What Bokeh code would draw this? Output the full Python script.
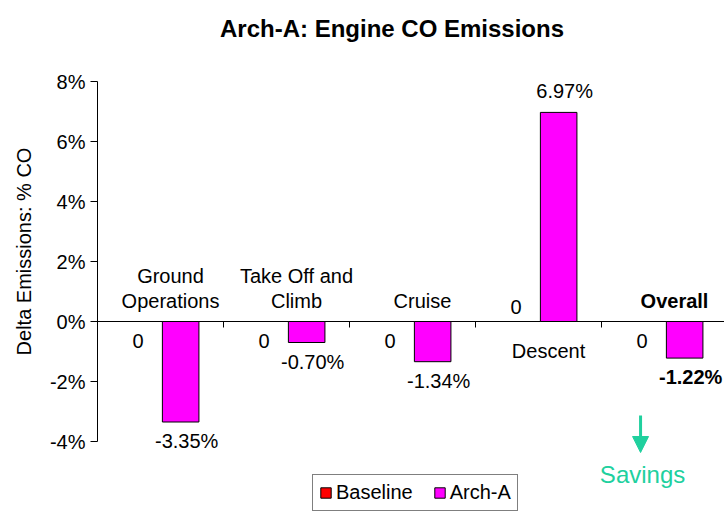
import numpy as np
from bokeh.plotting import figure
from bokeh.models import (ColumnDataSource, Range1d, LabelSet, Label, Arrow, NormalHead,
                          Legend, LegendItem)
from bokeh.core.properties import field, value
from bokeh.embed import file_html
from bokeh.resources import INLINE

# ---------------- data ----------------
chart_title = "Arch-A: Engine CO Emissions"
categories = ["Ground\nOperations", "Take Off and\nClimb", "Cruise", "Descent", "Overall"]
series_names = ["Baseline", "Arch-A"]
baseline = [0, 0, 0, 0, 0]
arch_a = [-3.35, -0.70, -1.34, 6.97, -1.22]
baseline_labels = ["0", "0", "0", "0", "0"]
arch_a_labels = ["-3.35%", "-0.70%", "-1.34%", "6.97%", "-1.22%"]
y_ticks = [-4, -2, 0, 2, 4, 6, 8]
y_tick_labels = ["-4%", "-2%", "0%", "2%", "4%", "6%", "8%"]
y_axis_title = "Delta Emissions: % CO"
savings_text = "Savings"

# ---------------- layout / style ----------------
FONT_NAME = "Liberation Sans"
FONT = value(FONT_NAME)
W, H = 724, 512
AX_LEFT_PX = 97      # pixel position of the value axis
TOP_PX = 81          # pixel position of the top of the value axis
GROUP_PX = 126       # pixels per category
UNIT_PX = 30         # pixels per 1 %
FS = "20px"
MAGENTA = "#FF00FF"
RED = "#FF0000"
GREEN = "#20D09E"
BAR_W = 0.29

y_top, y_bot = y_ticks[-1], y_ticks[0]


def x_of(px):
    return (px - AX_LEFT_PX) / GROUP_PX


def y_of(py):
    return y_top - (py - TOP_PX) / UNIT_PX


n = len(categories)
xc = np.arange(n) + 0.5
base_x = xc - 0.155
arch_x = xc + 0.16
styles = ["bold" if c == "Overall" else "normal" for c in categories]
neg = [v < 0 for v in arch_a]

p = figure(width=W, height=H, x_range=Range1d(x_of(0), x_of(W)), y_range=Range1d(y_of(H), y_of(0)),
           output_backend="svg", toolbar_location=None, x_axis_location=None, y_axis_location=None,
           min_border=0)
p.outline_line_color = None
p.grid.visible = False
p.background_fill_color = "white"
p.border_fill_color = "white"

# title
p.add_layout(Label(x=x_of(391.5), y=y_of(28), text=chart_title, text_align="center",
                   text_baseline="alphabetic", text_font=FONT_NAME, text_font_size="24px",
                   text_font_style="bold", text_color="black"))

# value axis (drawn by hand so it is bounded to -4..8)
p.segment(x0=[0], y0=[y_bot], x1=[0], y1=[y_top], line_color="black", line_width=1)
p.segment(x0=[0] * len(y_ticks), y0=y_ticks, x1=[x_of(AX_LEFT_PX - 7)] * len(y_ticks), y1=y_ticks,
          line_color="black", line_width=1)
tsrc = ColumnDataSource(dict(x=[0] * len(y_ticks), y=y_ticks, t=y_tick_labels))
p.add_layout(LabelSet(x="x", y="y", text="t", source=tsrc, x_offset=-12, text_align="right",
                      text_baseline="middle", text_font=FONT, text_font_size=FS, text_color="black"))
p.add_layout(Label(x=x_of(23), y=y_of(251), text=y_axis_title, angle=np.pi / 2, text_align="center",
                   text_baseline="middle", text_font=FONT_NAME, text_font_size=FS, text_color="black"))

# category axis at zero with boundary tick marks
p.segment(x0=[0], y0=[0], x1=[x_of(W)], y1=[0], line_color="black", line_width=1)
bounds = list(range(1, n + 1))
p.segment(x0=bounds, y0=[0] * len(bounds), x1=bounds, y1=[-6 / UNIT_PX] * len(bounds),
          line_color="black", line_width=1)

# bars
src = ColumnDataSource(dict(base_x=base_x, arch_x=arch_x, baseline=baseline, arch_a=arch_a,
                            base_lab=baseline_labels, arch_lab=arch_a_labels, style=styles,
                            arch_off=[-26 if s else 14 for s in neg],
                            base_off=[-26 if s else 8 for s in neg]))
r_base = p.vbar(x="base_x", top="baseline", bottom=0, width=BAR_W, source=src,
                fill_color=RED, line_color="black", line_width=1)
r_arch = p.vbar(x="arch_x", top="arch_a", bottom=0, width=BAR_W, source=src,
                fill_color=MAGENTA, line_color="black", line_width=1)

# value labels
p.add_layout(LabelSet(x="arch_x", y="arch_a", text="arch_lab", source=src, x_offset=6,
                      y_offset=field("arch_off"), text_align="center", text_baseline="alphabetic",
                      text_font=FONT, text_font_size=FS, text_font_style=field("style"),
                      text_color="black"))
p.add_layout(LabelSet(x="base_x", y="baseline", text="base_lab", source=src, x_offset=-3,
                      y_offset=field("base_off"), text_align="center", text_baseline="alphabetic",
                      text_font=FONT, text_font_size=FS, text_color="black"))

# category labels: above the axis for negative groups, below for positive
cx, ctxt, coff, cstyle = [], [], [], []
for i, c in enumerate(categories):
    lines = c.split("\n")
    if neg[i]:
        for k, ln in enumerate(reversed(lines)):
            cx.append(xc[i]); ctxt.append(ln); coff.append(14 + 25 * k); cstyle.append(styles[i])
    else:
        for k, ln in enumerate(lines):
            cx.append(xc[i]); ctxt.append(ln); coff.append(-36 - 25 * k); cstyle.append(styles[i])
csrc = ColumnDataSource(dict(x=cx, y=[0] * len(cx), text=ctxt, off=coff, style=cstyle))
p.add_layout(LabelSet(x="x", y="y", text="text", source=csrc, x_offset=10, y_offset=field("off"),
                      text_align="center", text_baseline="alphabetic", text_font=FONT,
                      text_font_size=FS, text_font_style=field("style"), text_color="black"))

# savings arrow & text under "Overall"
sx = xc[n - 1] - 0.19
p.add_layout(Arrow(x_start=sx, y_start=y_of(415), x_end=sx, y_end=y_of(452),
                   line_color=GREEN, line_width=3,
                   end=NormalHead(size=16, fill_color=GREEN, line_color=GREEN)))
p.add_layout(Label(x=sx, y=y_of(474), x_offset=2, text=savings_text, text_align="center",
                   text_baseline="alphabetic", text_font=FONT_NAME, text_font_size="24px",
                   text_color=GREEN))

# legend
legend = Legend(items=[LegendItem(label=series_names[0], renderers=[r_base]),
                       LegendItem(label=series_names[1], renderers=[r_arch])],
                location=(312, 1), orientation="horizontal",
                glyph_width=13, glyph_height=13, label_standoff=4, spacing=20,
                padding=6, margin=0, label_text_font=FONT_NAME, label_text_font_size=FS,
                label_text_color="black", border_line_color="black", border_line_width=1,
                background_fill_color="white", background_fill_alpha=1.0)
p.add_layout(legend)

open("out.html", "w").write(file_html(p, INLINE))
